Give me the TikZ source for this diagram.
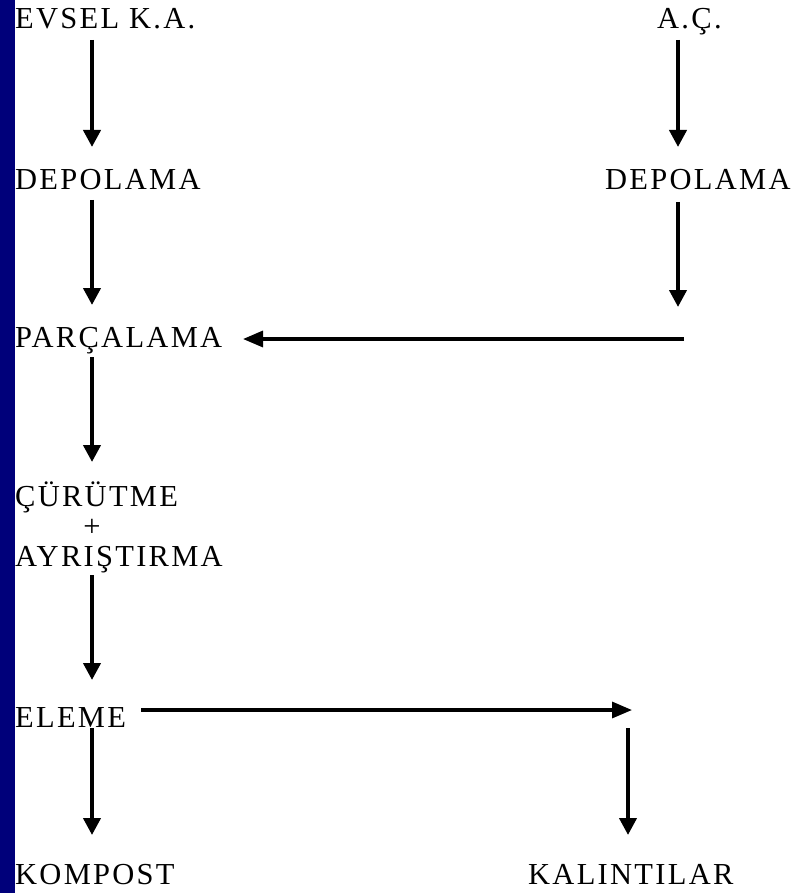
\documentclass[tikz,border=0pt]{standalone}
\usepackage{fontspec}
\setmainfont{Liberation Serif}[LetterSpace=7.5]
\usetikzlibrary{arrows.meta}
\definecolor{navy}{RGB}{0,0,122}
\begin{document}
\begin{tikzpicture}[x=1pt,y=-1pt,
  lbl/.style={inner sep=0pt,anchor=base west,font=\fontsize{30.5}{31}\selectfont},
  arr/.style={line width=4pt,-{Triangle[length=17pt,width=17pt]}},
  harr/.style={line width=3.2pt,-{Triangle[length=20pt,width=16pt]}}]
\useasboundingbox (0,0) rectangle (798,893);
\fill[white] (0,0) rectangle (798,893);
\fill[navy] (0,0) rectangle (15,893);
% labels
\node[lbl] (evsel) at (15,29) {EVSEL K.A.};
\node[lbl] (ac) at (657,29) {A.Ç.};
\node[lbl] (dep1) at (15,190) {DEPOLAMA};
\node[lbl] (dep2) at (605,190) {DEPOLAMA};
\node[lbl] (parc) at (15,347) {PARÇALAMA};
\node[lbl] (curu) at (15,506) {ÇÜRÜTME};
\node[lbl,anchor=center] (plus) at (92,528) {+};
\node[lbl] (ayri) at (15,566) {AYRIŞTIRMA};
\node[lbl] (eleme) at (15,727) {ELEME};
\node[lbl] (komp) at (15,884) {KOMPOST};
\node[lbl] (kal) at (528,884) {KALINTILAR};
% connector end points
\coordinate (a1s) at (92,40);  \coordinate (a1e) at (92,147);
\coordinate (b1s) at (678,40); \coordinate (b1e) at (678,147);
\coordinate (a2s) at (92,200); \coordinate (a2e) at (92,305);
\coordinate (b2s) at (678,202);\coordinate (b2e) at (678,307);
\coordinate (hs) at (684,339); \coordinate (he) at (243,339);
\coordinate (a3s) at (92,357); \coordinate (a3e) at (92,462);
\coordinate (a4s) at (92,575); \coordinate (a4e) at (92,680);
\coordinate (h2s) at (141,710);\coordinate (h2e) at (632,710);
\coordinate (a5s) at (92,728); \coordinate (a5e) at (92,835);
\coordinate (c1s) at (628,728);\coordinate (c1e) at (628,835);
\draw[arr] (a1s) -- (a1e);
\draw[arr] (b1s) -- (b1e);
\draw[arr] (a2s) -- (a2e);
\draw[arr] (b2s) -- (b2e);
\draw[harr] (hs) -- (he);
\draw[arr] (a3s) -- (a3e);
\draw[arr] (a4s) -- (a4e);
\draw[harr] (h2s) -- (h2e);
\draw[arr] (a5s) -- (a5e);
\draw[arr] (c1s) -- (c1e);
\end{tikzpicture}
\end{document}
